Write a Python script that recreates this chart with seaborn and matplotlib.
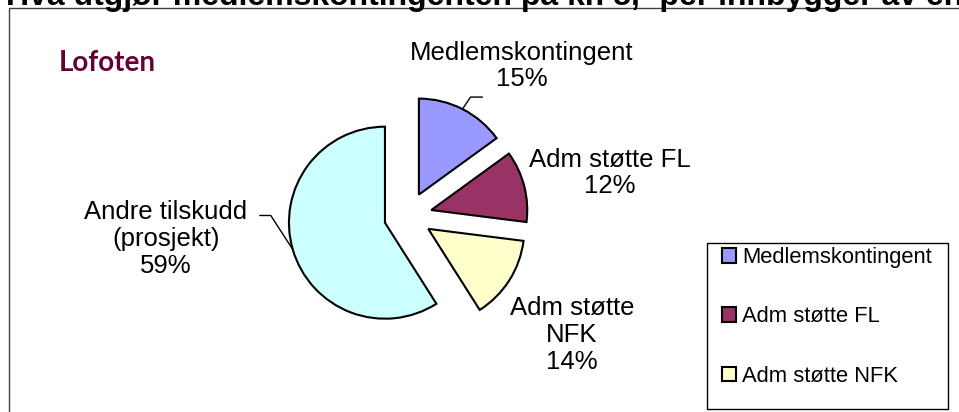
import matplotlib.pyplot as plt
from matplotlib.patches import Patch, Rectangle
import numpy as np
import seaborn as sns


categories = ["Medlemskontingent", "Adm støtte FL", "Adm støtte NFK", "Andre tilskudd (prosjekt)"]
shares = [15, 12, 14, 59]
label_names = ["Medlemskontingent", "Adm støtte FL", "Adm støtte\nNFK", "Andre tilskudd\n(prosjekt)"]
colors = ["#9999FF", "#993366", "#FFFFCC", "#CCFFFF"]
legend_items = categories[:3]

title = "Hva utgjør medlemskontingenten på kr. 5,- per innbygger av en"
region = "Lofoten"

W, H = 959, 412


def px(x, y):
    # screen pixels (y down) -> axes data (y up)
    return x, H - y


sns.set_theme(style="white")
plt.rcParams["font.family"] = ["Liberation Sans", "DejaVu Sans"]
plt.rcParams["text.color"] = "black"

fig = plt.figure(figsize=(W / 100, H / 100), dpi=100)
ax = fig.add_axes([0, 0, 1, 1])

wedges, _ = ax.pie(
    shares, colors=colors, startangle=90, counterclock=False,
    explode=[24] * len(shares), radius=96, center=px(408, 216),
    wedgeprops=dict(edgecolor="black", linewidth=1.5),
)
ax.set_xlim(0, W)
ax.set_ylim(0, H)
ax.set_aspect("auto")
ax.axis("off")

# chart frame (runs off the right and bottom edges)
ax.add_patch(Rectangle((9, -20), 1000, H - 8 + 20, fill=False, ec="#404040", lw=1))

# data labels
label_pos = [(522, 66), (610, 173), (572, 335), (166, 239)]
for name, share, (lx, ly) in zip(label_names, shares, label_pos):
    ax.text(*px(lx, ly), f"{name}\n{share}%", ha="center", va="center",
            multialignment="center", fontsize=18.5, linespacing=1.15)

# leader lines from the arc midpoint
leaders = {0: [(0, 0), (8, 12), (20, 12)], 3: [(0, 0), (-22, 34), (-33, 34)]}
for i, path in leaders.items():
    w = wedges[i]
    mid = np.deg2rad((w.theta1 + w.theta2) / 2)
    ax0 = w.center[0] + w.r * np.cos(mid)
    ay0 = w.center[1] + w.r * np.sin(mid)
    xs = [ax0 + dx for dx, dy in path]
    ys = [ay0 + dy for dx, dy in path]
    ax.plot(xs, ys, color="black", lw=1)

# title (cut off at top, as in the source)
ax.text(6, H - 5, title, fontsize=23, fontweight="bold", ha="left",
        va="baseline", clip_on=False)

ax.text(*px(59, 71), region, fontsize=20, fontweight="bold", color="#660033",
        family=["Lato", "DejaVu Sans"], va="baseline")

# legend
handles = [Patch(facecolor=c, edgecolor="black", lw=1.5) for c in colors[:3]]
fig.legend(handles, legend_items, loc="upper left",
           bbox_to_anchor=(722 / W, 1 - 247 / H), frameon=False, fontsize=15.8,
           handlelength=0.65, handleheight=0.65, handletextpad=0.25,
           labelspacing=1.75, borderpad=0, borderaxespad=0, labelcolor="black")
fig.patches.append(Rectangle((707 / W, 1 - 409 / H), (948 - 707) / W, (409 - 243) / H,
                             transform=fig.transFigure, fill=False, ec="black", lw=1))

fig.savefig("out.png", dpi=100)
